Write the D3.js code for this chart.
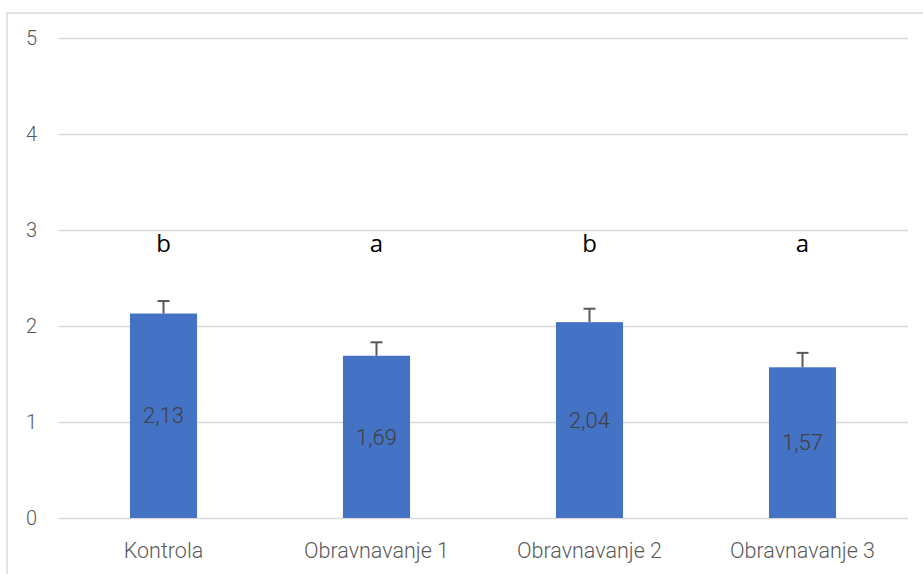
<!DOCTYPE html>
<html><head><meta charset="utf-8">
<script src="https://cdn.jsdelivr.net/npm/d3@7"></script>
<style>body{margin:0;background:#fff;} svg{display:block;}</style>
</head><body>
<script>
const categories = ["Kontrola", "Obravnavanje 1", "Obravnavanje 2", "Obravnavanje 3"];
const values = [2.13, 1.69, 2.04, 1.57];
const errors = [0.13, 0.14, 0.14, 0.15];
const letters = ["b", "a", "b", "a"];
const letterLevel = 2.77;
const yTicks = [0, 1, 2, 3, 4, 5];

const W = 923, H = 574;
const svg = d3.select("body").append("svg").attr("width", W).attr("height", H);
const font = "Roboto, 'Liberation Sans', sans-serif";

svg.append("path").attr("d", `M7,${H+5} L7,13 L${W+5},13`)
  .attr("fill", "none").attr("stroke", "#d9d9d9").attr("stroke-width", 1.5);

const y = d3.scaleLinear().domain([0, 5]).range([518, 38]);
const x = d3.scaleBand().domain(categories).range([57, 909]).paddingInner(0).paddingOuter(0);
const barW = x.bandwidth() * 0.315;

const yAxis = d3.axisLeft(y).tickValues(yTicks).tickSize(-(908 - 58)).tickFormat(d3.format("d"));
const gy = svg.append("g").attr("transform", "translate(58,0)").call(yAxis);
gy.select(".domain").remove();
gy.selectAll(".tick line").attr("stroke", "#d9d9d9").attr("stroke-width", 1.5);
gy.selectAll(".tick text").attr("x", -21).attr("fill", "#595959")
  .style("font-family", font).style("font-size", "20px").style("font-weight", 300);

const xAxis = d3.axisBottom(x).tickSize(0);
const gx = svg.append("g").attr("transform", "translate(0,518)").call(xAxis);
gx.select(".domain").remove();
gx.selectAll(".tick text").attr("y", 40).attr("dy", 0).attr("fill", "#595959")
  .style("font-family", font).style("font-size", "21.5px").style("font-weight", 300);

const data = categories.map((c, i) => ({c, v: values[i], e: errors[i], l: letters[i]}));

svg.append("g").selectAll("rect").data(data).join("rect")
  .attr("x", d => x(d.c) + x.bandwidth()/2 - barW/2)
  .attr("width", barW)
  .attr("y", d => y(d.v))
  .attr("height", d => y(0) - y(d.v))
  .attr("fill", "#4472c4");

const eg = svg.append("g").attr("stroke", "#595959").attr("stroke-width", 2);
eg.selectAll("line.v").data(data).join("line").attr("class", "v")
  .attr("x1", d => x(d.c) + x.bandwidth()/2).attr("x2", d => x(d.c) + x.bandwidth()/2)
  .attr("y1", d => y(d.v)).attr("y2", d => y(d.v + d.e));
eg.selectAll("line.c").data(data).join("line").attr("class", "c")
  .attr("x1", d => x(d.c) + x.bandwidth()/2 - 6).attr("x2", d => x(d.c) + x.bandwidth()/2 + 6)
  .attr("y1", d => y(d.v + d.e)).attr("y2", d => y(d.v + d.e));

svg.append("g").selectAll("text").data(data).join("text")
  .attr("x", d => x(d.c) + x.bandwidth()/2)
  .attr("y", d => (y(d.v) + y(0)) / 2)
  .attr("dy", "0.35em").attr("text-anchor", "middle")
  .attr("fill", "#404040").style("font-family", font).style("font-size", "22px").style("font-weight", 300)
  .text(d => d3.format(".2f")(d.v).replace(".", ","));

svg.append("g").selectAll("text").data(data).join("text")
  .attr("x", d => x(d.c) + x.bandwidth()/2)
  .attr("y", y(letterLevel))
  .attr("text-anchor", "middle")
  .attr("fill", "#000").style("font-family", "'Open Sans', 'Liberation Sans', sans-serif").style("font-size", "24px")
  .text(d => d.l);
</script>
</body></html>
